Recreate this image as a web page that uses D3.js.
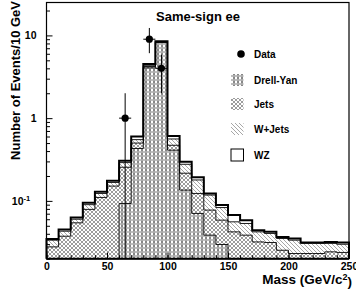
<!DOCTYPE html>
<html>
<head>
<meta charset="utf-8">
<script src="https://cdn.jsdelivr.net/npm/d3@7"></script>
<style>
  body { margin: 0; background: #fff; }
  svg { display: block; font-family: "Liberation Sans", Arial, Helvetica, sans-serif; font-weight: bold; }
</style>
</head>
<body>
<script>
// low edge of each 10 GeV mass bin
const binLow = [0, 10, 20, 30, 40, 50, 60, 70, 80, 90, 100, 110, 120, 130, 140, 150, 160, 170, 180, 190, 200, 210, 220, 230, 240];

// expected events per bin, stacked in this order
const drellYan = [0, 0, 0, 0, 0, 0, 0.093, 0.43, 4.05, 8.2, 0.41, 0.135, 0.0705, 0.0385, 0.0297, 0, 0, 0, 0, 0, 0, 0, 0, 0, 0];
const jets     = [0.0278, 0.0374, 0.0543, 0.0789, 0.110, 0.151, 0.162, 0.07, 0.15, 0.10, 0.06, 0.081, 0.0525, 0.0389, 0.0288, 0.0422, 0.0385, 0.0319, 0.0314, 0.0253, 0.0231, 0.0231, 0.0231, 0.0242, 0.0238];
const wJets    = [0.0057, 0.0056, 0.0057, 0.0111, 0.013, 0.016, 0.035, 0.05, 0.10, 0.10, 0.09, 0.061, 0.056, 0.0401, 0.0245, 0.0136, 0.0148, 0.0103, 0.009, 0.0098, 0.0104, 0.0075, 0.0075, 0.0064, 0.0061];
const wz       = [0.0012, 0.0021, 0.003, 0.0048, 0.006, 0.008, 0.016, 0.05, 0.21, 0.08, 0.05, 0.021, 0.014, 0.0055, 0.0059, 0.0115, 0.0052, 0.0021, 0.0018, 0.0016, 0.0016, 0.0008, 0.0008, 0.0013, 0.0015];

// observed events
const dataMass = [65, 85, 95];
const dataCount = [1, 9, 4];
const dataErrUp = [1.0, 3.3, 1.85];
const dataErrDown = [1.0, 2.9, 2.0];

const xTickValues = [0, 50, 100, 150, 200, 250];
const yTickValues = [0.1, 1, 10];
const legendNames = ["Data", "Drell-Yan", "Jets", "W+Jets", "WZ"];

const width = 356, height = 305;
const mLeft = 46.5, mRight = 349, mTop = 2.5, mBottom = 258.7;
const binWidth = 10;

const x = d3.scaleLinear().domain([0, 250]).range([mLeft, mRight]);
const y = d3.scaleLog().domain([0.02, 25]).range([mBottom, mTop]).clamp(true);
const yv = v => y(Math.max(v, 1e-4));

const svg = d3.select("body").append("svg")
    .attr("width", width)
    .attr("height", height)
    .attr("viewBox", [0, 0, width, height]);

// hatch patterns like the ROOT fill styles
const defs = svg.append("defs");
function pattern(id, paths) {
    const p = defs.append("pattern").attr("id", id)
        .attr("patternUnits", "userSpaceOnUse").attr("width", 4).attr("height", 4);
    p.append("rect").attr("width", 4).attr("height", 4).attr("fill", "#fff");
    paths.forEach(q => p.append("path").attr("d", q.d)
        .attr("stroke", q.c).attr("stroke-width", q.w).attr("fill", "none"));
}
pattern("pJets", [{d: "M0,0L4,4M4,0L0,4M-1,3L1,5M3,-1L5,1M-1,1L1,-1M3,5L5,3", c: "#666", w: 0.65}]);
pattern("pDY", [{d: "M0,0L4,4M4,0L0,4M-1,3L1,5M3,-1L5,1M-1,1L1,-1M3,5L5,3", c: "#888", w: 0.55},
                {d: "M2,0L2,4", c: "#444", w: 0.9}]);
pattern("pWJ", [{d: "M0,0L4,4M-1,3L1,5M3,-1L5,1", c: "#777", w: 0.65}]);

const table = binLow.map((b, i) => ({lo: b, DY: drellYan[i], Jets: jets[i], WJ: wJets[i], WZ: wz[i]}));
const keys = ["DY", "Jets", "WJ", "WZ"];
const fills = {DY: "url(#pDY)", Jets: "url(#pJets)", WJ: "url(#pWJ)", WZ: "#fff"};
const series = d3.stack().keys(keys)(table);

function stepPoints(s, which) {
    const pts = [];
    s.forEach(d => {
        pts.push([x(d.data.lo), yv(d[which])]);
        pts.push([x(d.data.lo + binWidth), yv(d[which])]);
    });
    return pts;
}

const plot = svg.append("g");

// filled bands, top layer first so the lower bands sit over it
series.slice().reverse().forEach(s => {
    const top1 = stepPoints(s, 1), bot0 = stepPoints(s, 0);
    const poly = top1.concat(bot0.reverse());
    plot.append("path")
        .attr("d", "M" + poly.join("L") + "Z")
        .attr("fill", fills[s.key])
        .attr("stroke", "none");
});

// outlines of each cumulative histogram
series.forEach(s => {
    const pts = stepPoints(s, 1);
    pts.unshift([x(0), mBottom]);
    pts.push([x(250), mBottom]);
    plot.append("path")
        .attr("d", d3.line()(pts))
        .attr("fill", "none")
        .attr("stroke", "#000")
        .attr("stroke-width", s.key === "WZ" ? 2 : 0.9);
});

// frame
svg.append("rect")
    .attr("x", mLeft).attr("y", mTop)
    .attr("width", mRight - mLeft).attr("height", mBottom - mTop)
    .attr("fill", "none").attr("stroke", "#000").attr("stroke-width", 1.2);
svg.append("line")
    .attr("x1", mLeft).attr("x2", mRight).attr("y1", mBottom).attr("y2", mBottom)
    .attr("stroke", "#000").attr("stroke-width", 2);

// axes, ticks inside the frame
const ay = svg.append("g").attr("transform", `translate(${mLeft},0)`)
    .call(d3.axisLeft(y).tickValues(yTickValues).tickSizeInner(-6).tickSizeOuter(0).tickPadding(10)
        .tickFormat(d => d === 0.1 ? "10" : d3.format("d")(d)));
ay.select(".domain").remove();
ay.selectAll(".tick text").attr("font-size", 10.5).attr("font-family", null).attr("fill", "#000")
    .each(function(d) {
        if (d === 0.1) {
            d3.select(this).attr("dx", "-0.6em");
            d3.select(this).append("tspan").attr("dy", "-0.45em").attr("font-size", 7.5).text("-1");
        }
    });
const minorY = y.ticks().filter(v => !yTickValues.includes(v));
svg.append("g").attr("transform", `translate(${mLeft},0)`)
    .call(d3.axisLeft(y).tickValues(minorY).tickSizeInner(-3.5).tickSizeOuter(0).tickFormat(""))
    .select(".domain").remove();

const ax = svg.append("g").attr("transform", `translate(0,${mBottom})`)
    .call(d3.axisBottom(x).tickValues(xTickValues).tickSizeInner(-6).tickSizeOuter(0).tickPadding(4)
        .tickFormat(d3.format("d")));
ax.select(".domain").remove();
ax.selectAll(".tick text").attr("font-size", 10.5).attr("font-family", null).attr("fill", "#000");
svg.append("g").attr("transform", `translate(0,${mBottom})`)
    .call(d3.axisBottom(x).ticks(25).tickSizeInner(-3.5).tickSizeOuter(0).tickFormat(""))
    .select(".domain").remove();

// data points with error bars
const pts = svg.append("g");
dataMass.forEach((m, i) => {
    const cx = x(m), cy = y(dataCount[i]);
    pts.append("line").attr("x1", cx).attr("x2", cx)
        .attr("y1", yv(dataCount[i] + dataErrUp[i])).attr("y2", yv(dataCount[i] - dataErrDown[i]))
        .attr("stroke", "#000").attr("stroke-width", 1);
    pts.append("line").attr("x1", x(m - binWidth / 2)).attr("x2", x(m + binWidth / 2))
        .attr("y1", cy).attr("y2", cy)
        .attr("stroke", "#000").attr("stroke-width", 1);
    pts.append("circle").attr("cx", cx).attr("cy", cy).attr("r", 3.6).attr("fill", "#000");
});

// titles
svg.append("text").attr("x", 198).attr("y", 21).attr("text-anchor", "middle")
    .attr("font-size", 13).text("Same-sign ee");

const xt = svg.append("text").attr("x", 352).attr("y", 284).attr("text-anchor", "end").attr("font-size", 13.5);
xt.append("tspan").text("Mass (GeV/c");
xt.append("tspan").attr("dy", "-0.45em").attr("font-size", 9).text("2");
xt.append("tspan").attr("dy", "0.45em").text(")");

svg.append("text").attr("transform", "translate(19.5,1) rotate(-90)")
    .attr("text-anchor", "end").attr("font-size", 13).text("Number of Events/10 GeV");

// legend
const legY = [54, 80, 104, 129, 155];
const leg = svg.append("g");
legendNames.forEach((name, i) => {
    const ly = legY[i];
    if (i === 0) {
        leg.append("circle").attr("cx", 241).attr("cy", ly).attr("r", 3.8).attr("fill", "#000");
    } else {
        leg.append("rect").attr("x", 231).attr("y", ly - 6).attr("width", 12.5).attr("height", 12)
            .attr("fill", fills[keys[i - 1]])
            .attr("stroke", i === 4 ? "#000" : "none").attr("stroke-width", 1);
    }
    leg.append("text").attr("x", 254).attr("y", ly + 3.6).attr("font-size", 10).text(name);
});
</script>
</body>
</html>
